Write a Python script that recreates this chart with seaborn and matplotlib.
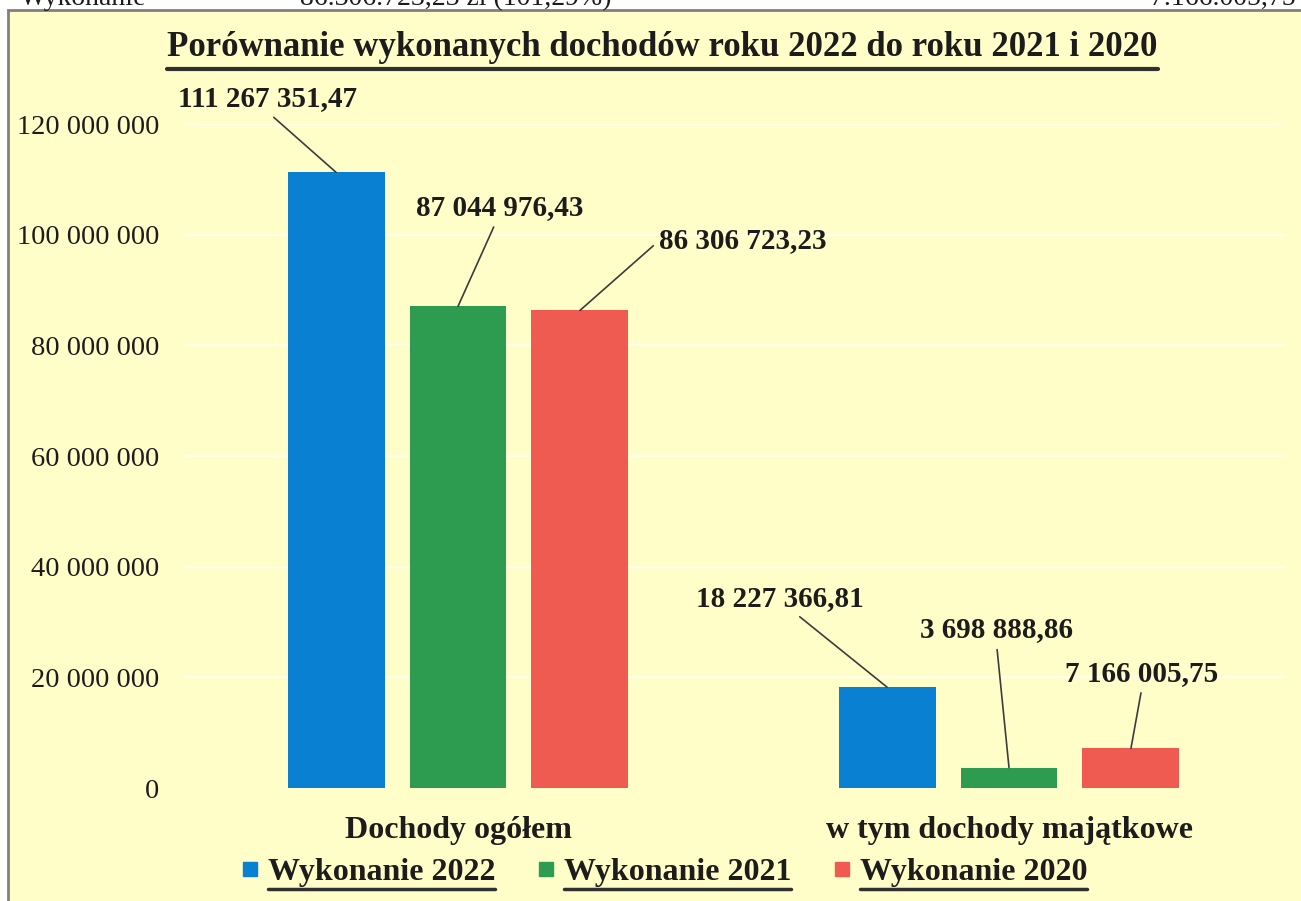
import numpy as np
import pandas as pd
import seaborn as sns
import matplotlib.pyplot as plt
from matplotlib.lines import Line2D
from matplotlib.patches import Rectangle
from matplotlib.ticker import FuncFormatter

# ── 1. Data ─────────────────────────────────────────────
categories = ["Dochody ogółem", "w tym dochody majątkowe"]
series = ["Wykonanie 2022", "Wykonanie 2021", "Wykonanie 2020"]
values_2022 = [111267351.47, 18227366.81]
values_2021 = [87044976.43, 3698888.86]
values_2020 = [86306723.23, 7166005.75]
y_ticks = [0, 20000000, 40000000, 60000000, 80000000, 100000000, 120000000]

colors = ["#0a80d2", "#2e9c50", "#ef5b50"]
bg = "#fffdc8"
ink = "#1c1c1c"

df = pd.DataFrame({
    "kategoria": categories * 3,
    "seria": [s for s in series for _ in categories],
    "wartosc": values_2022 + values_2021 + values_2020,
})

# ── 2. Figure + axes ────────────────────────────────────
sns.set_style("white")
plt.rcParams["font.family"] = ["Liberation Serif", "DejaVu Serif"]

W, H = 1301, 901
fig = plt.figure(figsize=(W / 100, H / 100), dpi=100, facecolor="white")

# chart frame (scanned page box)
fig.patches.append(Rectangle((8 / W, -0.2), 1.2, (H - 10) / H + 0.2,
                             transform=fig.transFigure, facecolor=bg,
                             edgecolor="#808080", lw=2, zorder=-5))

ax = fig.add_axes([182.5 / W, 1 - 788 / H, 1102 / W, 664 / H])
ax.set_facecolor("none")
ax.set_zorder(2)

sns.barplot(data=df, x="kategoria", y="wartosc", hue="seria",
            palette=colors, width=0.664, gap=0.205, saturation=1,
            edgecolor="none", legend=False, ax=ax, zorder=3)

ax.set_ylim(0, 120000000)
ax.set_xlim(-0.5, 1.5)
ax.set_yticks(y_ticks)
ax.yaxis.set_major_formatter(FuncFormatter(lambda v, p: f"{int(v):,}".replace(",", " ")))
ax.grid(axis="y", color="#fffee8", lw=1.6, zorder=1)   # faint, as in the scan
ax.set_axisbelow(True)
for s in ax.spines.values():
    s.set_visible(False)
ax.tick_params(axis="y", length=0, pad=17, labelsize=20.5, labelcolor=ink)
ax.tick_params(axis="x", length=0, pad=20, labelsize=23, labelcolor=ink)
for t in ax.get_xticklabels():
    t.set_fontweight("bold")
ax.set_xlabel("")
ax.set_ylabel("")

# ── 3. Data labels with leader lines ────────────────────
# offsets (points) of label centre from bar top, and line start on label
offsets = [[(-49, 53), (-77, 64)],
           [(30, 71), (-9, 99)],
           [(117, 50), (8, 54)]]
relpos = [[(0.5, 0), (0.58, 0)],
          [(0.48, 0), (0.5, 0)],
          [(0, 0.5), (0.5, 0)]]

for i, cont in enumerate(ax.containers):
    for j, bar in enumerate(cont):
        v = bar.get_height()
        lab = f"{v:,.2f}".replace(",", " ").replace(".", ",")
        ax.annotate(lab, xy=(bar.get_x() + bar.get_width() / 2, v),
                    xytext=offsets[i][j], textcoords="offset points",
                    ha="center", va="center", fontsize=21, fontweight="bold",
                    color=ink, annotation_clip=False,
                    arrowprops=dict(arrowstyle="-", color="#3c3c3c", lw=1.2,
                                    shrinkA=2, shrinkB=0, relpos=relpos[i][j]))

# ── 4. Title, legend, cut-off text from page above ─────
title = fig.text(662.5 / W, 1 - 48 / H,
                 "Porównanie wykonanych dochodów roku 2022 do roku 2021 i 2020",
                 ha="center", va="center", fontsize=25, fontweight="bold",
                 color=ink)

handles = [Line2D([], [], marker="s", ls="none", color=c, markersize=9.5) for c in colors]
leg = fig.legend(handles, series, loc="center", bbox_to_anchor=(664 / W, 1 - 872 / H),
                 ncol=3, frameon=False, handlelength=0.6, handletextpad=0.25,
                 columnspacing=1.3, prop={"weight": "bold", "size": 23})
for t in leg.get_texts():
    t.set_color(ink)

fig.text(20 / W, 1 - 5 / H, "Wykonanie", fontsize=20, color=ink, va="baseline")
fig.text(300 / W, 1 - 5 / H, "86.306.723,23 zł (101,29%)", fontsize=20, color=ink, va="baseline")
fig.text(1150 / W, 1 - 5 / H, "7.166.005,75 zł (193,5%)", fontsize=20, color=ink, va="baseline")

# underline title and legend texts
fig.canvas.draw()
rend = fig.canvas.get_renderer()
for t, off, lw in [(title, 4, 3)] + [(t, 2, 2.5) for t in leg.get_texts()]:
    bb = t.get_window_extent(rend)
    yl = bb.y0 - off
    fig.add_artist(Line2D([bb.x0 / W, bb.x1 / W], [yl / H, yl / H],
                          transform=fig.transFigure, color="#303030", lw=lw))

plt.savefig("out.png", dpi=100, facecolor="white")
print("saved")
